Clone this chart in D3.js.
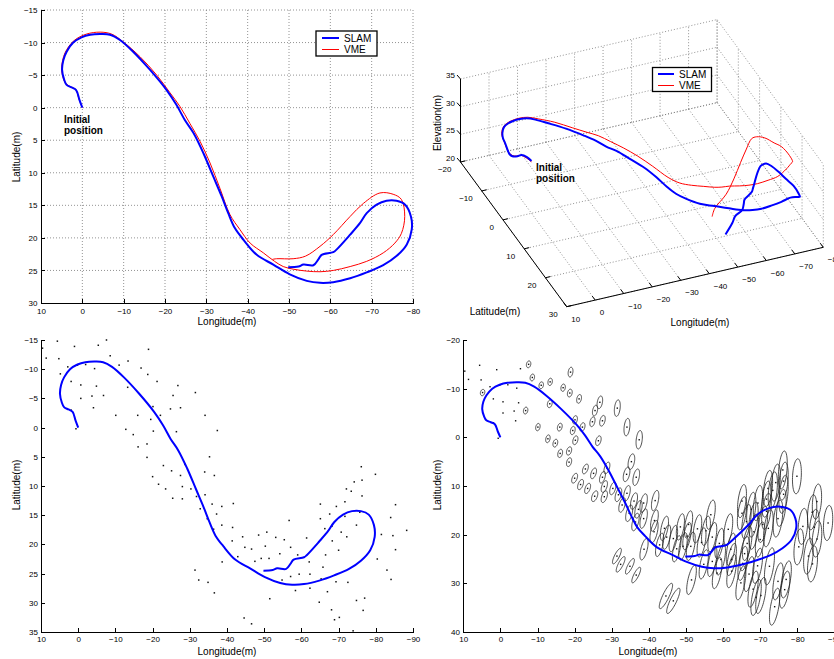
<!DOCTYPE html>
<html>
<head>
<meta charset="utf-8">
<script src="https://cdn.jsdelivr.net/npm/d3@7"></script>
<style>
  body { margin: 0; background: #fff; }
  svg text { font-family: "Liberation Sans", Arial, Helvetica, sans-serif; fill: #000; }
  .tick text { font-size: 8px; }
  .axis path, .axis line { stroke: #000; shape-rendering: crispEdges; }
  .grid line { stroke: #777; stroke-dasharray: 1,2; stroke-width: 0.8; }
</style>
</head>
<body>
<svg id="fig" width="834" height="659"></svg>
<script>
// SLAM trajectory (longitude, latitude, elevation in metres)
const slamLon = [0, 0.7, 1.5, 2.6, 3.8, 4.4, 4.9, 4.6, 3.8, 2.2, 0.2, -1.9, -4.3, -6.7, -9.1, -12.3,
  -16.4, -20.4, -22.8, -24.8, -26.9, -29.3, -31.7, -33.7, -35.3, -36.9, -39.0, -42.2, -46.2, -50.2,
  -54.3, -57.5, -60.7, -64.8, -68.8, -72.8, -76.0, -78.5, -79.7, -79.5, -78.1, -76.0, -73.6, -71.2,
  -68.8, -67.2, -64.8, -61.5, -60.7, -57.9, -57.1, -55.9, -53.5, -52.3, -49.8];
const slamLat = [0, -1.2, -2.7, -3.1, -3.5, -4.3, -5.8, -7.3, -8.6, -10.0, -10.8, -11.2, -11.3, -11.2,
  -10.4, -8.6, -5.8, -2.7, -0.4, 1.9, 3.9, 7.0, 10.6, 13.6, 16.2, 18.5, 20.3, 22.6, 24.1, 25.6, 26.6,
  26.9, 26.8, 26.2, 25.3, 24.2, 22.8, 21.0, 18.7, 16.7, 14.9, 14.3, 14.3, 14.9, 16.2, 17.7, 19.5,
  21.8, 22.2, 22.6, 23.3, 24.2, 24.1, 24.4, 24.5];
const slamElev = [29.45, 29.6, 29.3, 29.0, 28.9, 28.9, 30.2, 30.4, 30.5, 30.6, 30.6, 30.6, 30.6, 30.5,
  30.4, 30.3, 30.3, 30.2, 30.2, 30.1, 30.1, 30.0, 30.0, 29.6, 29.1, 28.8, 28.6, 28.5, 28.4, 28.3, 28.0,
  27.8, 27.6, 27.4, 27.1, 26.8, 25.8, 24.6, 23.9, 24.2, 24.7, 25.9, 27.2, 28.3, 29.0, 29.8, 29.9,
  28.7, 28.2, 27.4, 27.1, 26.6, 25.7, 24.8, 23.05];

// VME trajectory
const vmeLon = [0, 0.8, 1.6, 2.8, 4.0, 4.6, 5.0, 4.2, 2.0, -1.0, -4.3, -7.1, -9.9, -14.0, -18.0, -21.2,
  -23.6, -26.0, -28.5, -30.9, -33.3, -35.7, -38.1, -40.6, -43.8, -46.5, -48.6, -51.0, -54.3, -57.5,
  -60.7, -64.8, -68.8, -72.8, -75.6, -77.2, -78.0, -77.2, -75.2, -72.0, -68.0, -64.8, -60.7, -57.5,
  -54.0, -51.0, -47.0, -46.0];
const vmeLat = [0, -1.3, -2.8, -3.2, -3.7, -4.5, -6.1, -8.4, -10.3, -11.3, -11.6, -11.3, -10.1, -7.8,
  -5.0, -2.3, -0.2, 2.4, 5.2, 8.5, 12.4, 16.4, 18.7, 20.8, 22.3, 23.6, 24.4, 24.8, 25.1, 25.2, 25.0,
  24.4, 23.6, 22.3, 20.8, 19.3, 16.7, 14.1, 13.3, 13.1, 14.7, 16.7, 19.5, 21.3, 22.8, 23.2, 23.2, 23.3];
const vmeElev = [29.3, 29.4, 29.2, 29.0, 29.0, 29.2, 30.3, 30.5, 30.6, 30.6, 30.6, 30.6, 30.6, 30.7,
  30.7, 30.9, 31.1, 31.1, 31.1, 31.1, 31.0, 30.8, 30.7, 31.1, 31.3, 31.5, 31.7, 31.8, 31.6, 31.4,
  31.2, 31.0, 30.8, 31.0, 30.9, 30.2, 29.9, 30.2, 30.7, 31.9, 33.4, 34.5, 34.4, 33.5, 31.7, 29.5,
  27.4, 26.1];

// Landmarks: [lon, lat, sdLon, sdLat, correlation]
const landmarks = [
  [9.6,-13.6,0,0,0],[8.6,-11.9,0,0,0],[5.6,-14.8,0,0,0],[5.2,-11.8,0,0,0],[4.8,-9.2,0.6,0.65,0.2],
  [2.8,-10.4,0,0,0],[1.9,-7.9,0,0,0],[1.0,-13.9,0,0,0],[0.2,-10.7,0,0,0],[-0.7,-7.3,0,0,0],
  [-0.7,-5.0,0,0,0],[1.9,-3.0,0,0,0],[0.6,0.2,0,0,0],[-2.0,-10.8,0,0,0],[-3.7,-5.4,0,0,0],
  [-4.1,-3.4,0,0,0],[-4.9,-7.1,0,0,0],[-4.4,-10.1,0,0,0],[-5.4,-14.1,0,0,0],[-6.8,-5.5,0.6,0.7,0.2],
  [-7.6,-15.0,0.6,0.7,0.2],[-8.6,-12.3,0.6,0.7,0.2],[-10.1,-2.1,0.6,0.75,0.25],[-11.0,-10.7,0.6,0.7,0.2],
  [-12.8,0.3,0.6,0.8,0.3],[-13.3,-6.9,0.65,0.8,0.25],[-13.4,-11.4,0.6,0.75,0.2],[-14.8,1.2,0.65,0.8,0.3],
  [-16.0,-2.1,0.65,0.8,0.3],[-16.1,3.3,0.65,0.85,0.3],[-16.9,-10.2,0.6,0.75,0.2],[-18.5,5.1,0.7,0.9,0.35],
  [-18.5,2.8,0.7,0.85,0.35],[-18.7,-9.1,0.65,0.8,0.25],[-18.9,-13.4,0.65,1.0,0.25],[-19.5,-1.4,0.65,0.85,0.3],
  [-20.1,-3.6,0.65,0.85,0.3],[-20.2,0.6,0.7,0.9,0.35],[-20.0,8.4,0.8,1.0,0.5],[-21.2,-7.9,0.65,0.9,0.3],
  [-21.6,9.7,0.8,1.05,0.5],[-22.1,-2.1,0.7,0.9,0.35],[-22.9,6.5,0.8,1.0,0.5],[-23.5,10.5,0.8,1.05,0.5],
  [-24.8,-3.2,0.7,1.0,0.35],[-25.1,7.4,0.8,1.1,0.5],[-25.4,12.1,0.85,1.1,0.5],[-25.5,-5.5,0.7,1.1,0.35],
  [-26.4,0.7,0.75,1.0,0.4],[-26.8,-7.2,0.75,1.3,0.35],[-27.5,-3.4,0.75,1.1,0.4],[-27.5,8.2,0.8,1.2,0.5],
  [-28.0,10.1,0.85,1.2,0.5],[-28.0,12.2,0.85,1.2,0.5],[-28.7,6.3,0.8,1.2,0.5],[-30.3,10.5,0.85,1.3,0.5],
  [-31.5,-6.0,0.8,1.7,0.3],[-31.4,24.4,1.2,1.6,0.8],[-31.8,11.8,0.9,1.4,0.5],[-32.4,26.1,1.2,1.6,0.8],
  [-32.8,13.9,0.9,1.5,0.5],[-34.0,7.6,0.9,1.5,0.45],[-34.1,-2.1,0.8,1.8,0.3],[-34.1,11.5,0.9,1.6,0.5],
  [-34.7,15.6,0.95,1.7,0.5],[-34.9,26.5,1.2,1.6,0.8],[-35.3,5.0,0.9,1.6,0.4],[-36.0,13.1,0.95,1.7,0.5],
  [-36.4,17.4,1.0,1.8,0.55],[-36.6,8.2,0.9,1.7,0.45],[-36.6,28.3,1.2,1.6,0.8],[-37.2,14.8,1.0,1.8,0.5],
  [-37.4,0.5,0.85,1.9,0.3],[-38.6,13.5,1.0,1.9,0.5],[-38.6,16.7,1.0,2.0,0.55],[-38.7,23.0,1.1,2.2,0.6],
  [-41.5,17.1,1.05,2.2,0.55],[-41.7,13.0,1.0,2.1,0.5],[-41.4,19.4,1.1,2.3,0.55],[-42.9,22.1,1.1,2.4,0.6],
  [-44.2,18.7,1.1,2.5,0.55],[-44.8,20.5,1.1,2.5,0.55],[-44.6,32.6,1.8,2.6,0.85],[-46.6,20.8,1.15,2.7,0.55],
  [-46.6,33.6,1.8,2.6,0.85],[-47.5,22.9,1.15,2.7,0.6],[-48.5,18.4,1.1,2.7,0.5],[-49.2,22.4,1.15,2.8,0.55],
  [-50.3,20.3,1.15,2.8,0.55],[-50.7,17.9,1.1,2.8,0.5],[-51.3,22.4,1.2,2.9,0.55],[-51.5,29.3,1.3,3.0,0.65],
  [-53.1,18.8,1.15,2.9,0.5],[-54.2,21.6,1.2,3.0,0.55],[-54.8,26.1,1.25,3.0,0.6],[-55.4,19.2,1.2,3.0,0.5],
  [-56.7,15.9,1.2,3.0,0.5],[-57.1,20.5,1.2,3.0,0.55],[-57.1,25.5,1.25,3.1,0.6],[-58.4,27.9,1.3,3.2,0.6],
  [-59.0,21.8,1.2,3.1,0.55],[-59.4,25.1,1.25,3.2,0.6],[-61.4,18.9,1.2,3.2,0.5],[-62.1,23.0,1.25,3.3,0.55],
  [-62.3,25.1,1.3,3.3,0.6],[-62.3,27.5,1.3,3.4,0.6],[-64.8,29.9,1.35,3.5,0.6],[-65.1,13.1,1.2,3.4,0.45],
  [-65.1,15.6,1.25,3.4,0.5],[-65.3,25.9,1.3,3.5,0.55],[-65.8,23.9,1.3,3.5,0.55],[-66.3,17.3,1.25,3.5,0.5],
  [-66.5,21.8,1.3,3.5,0.55],[-67.0,28.1,1.35,3.6,0.6],[-67.6,14.8,1.25,3.5,0.45],[-68.1,31.2,1.4,3.7,0.6],
  [-68.2,16.9,1.25,3.6,0.5],[-68.3,19.4,1.3,3.6,0.5],[-68.9,32.9,1.4,3.7,0.6],[-69.3,26.4,1.35,3.6,0.55],
  [-69.4,13.5,1.25,3.6,0.45],[-70.0,21.0,1.3,3.6,0.5],[-70.2,32.5,1.4,3.7,0.6],[-70.7,17.9,1.3,3.7,0.5],
  [-71.7,12.7,1.25,3.7,0.4],[-71.7,15.2,1.3,3.7,0.45],[-72.1,10.5,1.25,3.7,0.4],[-72.2,18.7,1.3,3.8,0.5],
  [-72.5,26.5,1.35,3.8,0.55],[-73.4,10.9,1.25,3.8,0.4],[-73.9,34.8,1.4,3.8,0.6],[-74.2,9.3,1.25,3.8,0.4],
  [-74.8,16.7,1.3,3.8,0.45],[-74.8,29.6,1.4,3.8,0.55],[-75.7,14.5,1.3,3.8,0.45],[-76.1,6.7,1.2,3.9,0.35],
  [-76.3,9.0,1.25,3.9,0.35],[-76.3,11.7,1.25,3.9,0.4],[-76.6,31.3,1.4,3.8,0.55],[-77.0,29.2,1.4,3.8,0.55],
  [-79.9,8.0,1.2,3.6,0.2],[-80.4,22.5,1.3,3.7,0.35],[-81.5,18.3,1.3,3.7,0.3],[-83.0,24.4,1.3,3.7,0.35],
  [-84.0,15.4,1.25,3.6,0.3],[-84.1,26.0,1.35,3.7,0.35],[-84.6,18.5,1.3,3.7,0.3],[-85.3,13.2,1.25,3.6,0.3],
  [-85.3,20.9,1.3,3.7,0.3],[-88.3,17.6,1.25,3.6,0.25]
];

// tick values
const lonTicks1 = [10, 0, -10, -20, -30, -40, -50, -60, -70, -80];
const latTicks1 = [-15, -10, -5, 0, 5, 10, 15, 20, 25, 30];
const lonTicks3 = [10, 0, -10, -20, -30, -40, -50, -60, -70, -80, -90];
const latTicks3 = [-15, -10, -5, 0, 5, 10, 15, 20, 25, 30, 35];
const latTicks4 = [-20, -10, 0, 10, 20, 30, 40];
const lonTicks3d = [10, 0, -10, -20, -30, -40, -50, -60, -70, -80];
const latTicks3d = [-20, -10, 0, 10, 20, 30];
const elevTicks3d = [20, 25, 30, 35];

const seriesNames = ["SLAM", "VME"];
const BLUE = "#0000ff", RED = "#ff0000";

const svg = d3.select("#fig");
const fmt = d3.format("d");

const slamPts = slamLon.map((d, i) => [d, slamLat[i]]);
const vmePts = vmeLon.map((d, i) => [d, vmeLat[i]]);

function drawAxes(g, x, y, xt, yt, padX, padY) {
  g.append("g").attr("class", "axis")
    .attr("transform", `translate(0,${y.range()[1]})`)
    .call(d3.axisBottom(x).tickValues(xt).tickSizeInner(-4).tickSizeOuter(0).tickPadding(padX));
  g.append("g").attr("class", "axis")
    .attr("transform", `translate(${x.range()[0]},0)`)
    .call(d3.axisLeft(y).tickValues(yt).tickSizeInner(-4).tickSizeOuter(0).tickPadding(padY));
  g.selectAll(".axis .domain").attr("stroke-width", 1);
}

function axisLabels(g, cx, by, lx, cy) {
  g.append("text").attr("x", cx).attr("y", by).attr("text-anchor", "middle")
    .style("font-size", "10px").text("Longitude(m)");
  g.append("text").attr("transform", `translate(${lx},${cy}) rotate(-90)`)
    .attr("text-anchor", "middle").attr("dy", "0.35em")
    .style("font-size", "10px").text("Latitude(m)");
}

function legend(g, x0, y0, w, h, lineX0, lineX1, textX, rowY) {
  g.append("rect").attr("x", x0).attr("y", y0).attr("width", w).attr("height", h)
    .attr("fill", "#fff").attr("stroke", "#000").attr("stroke-width", 1.3);
  const colors = [BLUE, RED], widths = [2, 1];
  seriesNames.forEach((n, i) => {
    g.append("line").attr("x1", lineX0).attr("x2", lineX1)
      .attr("y1", rowY[i]).attr("y2", rowY[i])
      .attr("stroke", colors[i]).attr("stroke-width", widths[i]);
    g.append("text").attr("x", textX).attr("y", rowY[i]).attr("dy", "0.35em")
      .style("font-size", "10px").text(n);
  });
}

function initialLabel(g, x, y) {
  const t = g.append("text").attr("x", x).attr("y", y)
    .style("font-size", "10px").style("font-weight", "bold");
  t.append("tspan").attr("x", x).text("Initial");
  t.append("tspan").attr("x", x).attr("dy", 11.5).text("position");
}

// ---------------- Panel 1: 2D trajectories ----------------
{
  const g = svg.append("g");
  const x = d3.scaleLinear().domain([10, -80]).range([41, 413]);
  const y = d3.scaleLinear().domain([-15, 30]).range([10, 303]);

  const grid = g.append("g").attr("class", "grid");
  grid.selectAll(".gv").data(lonTicks1.filter(d => d !== 10)).enter().append("line")
    .attr("x1", d => x(d)).attr("x2", d => x(d)).attr("y1", y(-15)).attr("y2", y(30));
  grid.selectAll(".gh").data(latTicks1.filter(d => d !== 30)).enter().append("line")
    .attr("y1", d => y(d)).attr("y2", d => y(d)).attr("x1", x(10)).attr("x2", x(-80));

  drawAxes(g, x, y, lonTicks1, latTicks1, 5, 3.5);
  axisLabels(g, 227, 325, 16, 157);

  const line = d3.line().x(d => x(d[0])).y(d => y(d[1])).curve(d3.curveCatmullRom.alpha(0.5));
  g.append("path").datum(vmePts).attr("d", line).attr("fill", "none")
    .attr("stroke", RED).attr("stroke-width", 1);
  g.append("path").datum(slamPts).attr("d", line).attr("fill", "none")
    .attr("stroke", BLUE).attr("stroke-width", 2);

  legend(g, 316, 31, 61, 25, 322, 339, 344, [38, 49.5]);
  initialLabel(g, 64, 122.5);
}

// ---------------- Panel 2: 3D view ----------------
{
  const g = svg.append("g");
  const ox = 460.5, oy = 162;
  const pLonX = d3.scaleLinear().domain([10, -80]).range([0, 256.6]);
  const pLonY = d3.scaleLinear().domain([10, -80]).range([0, -59.4]);
  const pLatX = d3.scaleLinear().domain([-20, 30]).range([0, 106.2]);
  const pLatY = d3.scaleLinear().domain([-20, 30]).range([0, 144.7]);
  const pElY = d3.scaleLinear().domain([20, 35]).range([0, -83]);
  const proj = (lon, lat, el) => [ox + pLonX(lon) + pLatX(lat), oy + pLonY(lon) + pLatY(lat) + pElY(el)];

  const segs = [];
  lonTicks3d.forEach(L => {
    segs.push([proj(L, -20, 20), proj(L, 30, 20)]);
    segs.push([proj(L, -20, 20), proj(L, -20, 35)]);
  });
  latTicks3d.forEach(A => {
    segs.push([proj(10, A, 20), proj(-80, A, 20)]);
    segs.push([proj(-80, A, 20), proj(-80, A, 35)]);
  });
  elevTicks3d.forEach(E => {
    segs.push([proj(10, -20, E), proj(-80, -20, E)]);
    segs.push([proj(-80, -20, E), proj(-80, 30, E)]);
  });
  g.append("g").attr("class", "grid").selectAll("line").data(segs).enter().append("line")
    .attr("x1", d => d[0][0]).attr("y1", d => d[0][1])
    .attr("x2", d => d[1][0]).attr("y2", d => d[1][1]);

  const ax = g.append("g").attr("stroke", "#000").attr("stroke-width", 1);
  const seg = (a, b) => ax.append("line").attr("x1", a[0]).attr("y1", a[1]).attr("x2", b[0]).attr("y2", b[1]);
  seg(proj(10, -20, 20), proj(10, 30, 20));
  seg(proj(10, 30, 20), proj(-80, 30, 20));
  seg(proj(10, -20, 20), proj(10, -20, 35));

  lonTicks3d.forEach(L => {
    const p = proj(L, 30, 20);
    seg(p, [p[0] - 3, p[1] - 4]);
    g.append("text").attr("x", p[0] + 4.5).attr("y", p[1] + 15)
      .style("font-size", "8px").text(fmt(L));
  });
  latTicks3d.forEach(A => {
    const p = proj(10, A, 20);
    seg(p, [p[0] + 5, p[1] - 1.2]);
    g.append("text").attr("x", p[0] - 9).attr("y", p[1] + 10).attr("text-anchor", "end")
      .style("font-size", "8px").text(fmt(A));
  });
  elevTicks3d.forEach(E => {
    const p = proj(10, -20, E);
    seg(p, [p[0] - 3.5, p[1] - 4]);
    g.append("text").attr("x", p[0] - 5.5).attr("y", p[1] - 1).attr("text-anchor", "end")
      .style("font-size", "8px").text(fmt(E));
  });

  g.append("text").attr("x", 495).attr("y", 314.5).attr("text-anchor", "middle")
    .style("font-size", "10px").text("Latitude(m)");
  g.append("text").attr("x", 700).attr("y", 325.5).attr("text-anchor", "middle")
    .style("font-size", "10px").text("Longitude(m)");
  g.append("text").attr("transform", "translate(437.5,123) rotate(-90)")
    .attr("text-anchor", "middle").attr("dy", "0.35em")
    .style("font-size", "10px").text("Elevation(m)");

  const line3 = d3.line().curve(d3.curveCatmullRom.alpha(0.5));
  const vme3 = vmeLon.map((d, i) => proj(d, vmeLat[i], vmeElev[i]));
  const slam3 = slamLon.map((d, i) => proj(d, slamLat[i], slamElev[i]));
  g.append("path").attr("d", line3(vme3)).attr("fill", "none").attr("stroke", RED).attr("stroke-width", 1);
  g.append("path").attr("d", line3(slam3)).attr("fill", "none").attr("stroke", BLUE).attr("stroke-width", 2);

  legend(g, 652.5, 67.5, 59, 24, 658, 674, 679, [74, 85.5]);
  initialLabel(g, 536, 170.5);
}

// ---------------- Panel 3: landmarks ----------------
{
  const g = svg.append("g");
  const x = d3.scaleLinear().domain([10, -90]).range([41, 413]);
  const y = d3.scaleLinear().domain([-15, 35]).range([340, 632]);
  drawAxes(g, x, y, lonTicks3, latTicks3, 4.5, 3);
  axisLabels(g, 227, 654.5, 16, 485);

  g.selectAll(".lm").data(landmarks).enter().append("rect")
    .attr("x", d => x(d[0]) - 0.75).attr("y", d => y(d[1]) - 0.75)
    .attr("width", 1.5).attr("height", 1.5).attr("fill", "#111");

  const line = d3.line().x(d => x(d[0])).y(d => y(d[1])).curve(d3.curveCatmullRom.alpha(0.5));
  g.append("path").datum(slamPts).attr("d", line).attr("fill", "none")
    .attr("stroke", BLUE).attr("stroke-width", 2);
}

// ---------------- Panel 4: landmarks with uncertainty ----------------
{
  const g = svg.append("g");
  const x = d3.scaleLinear().domain([10, -90]).range([463.3, 834.4]);
  const y = d3.scaleLinear().domain([-20, 40]).range([340, 632]);
  drawAxes(g, x, y, lonTicks3, latTicks4, 4.5, 3.3);
  axisLabels(g, 648, 654.5, 437, 485);

  const angles = d3.range(0, 2 * Math.PI, Math.PI / 24);
  const ell = d3.line().curve(d3.curveLinearClosed);
  g.selectAll(".ell").data(landmarks.filter(d => d[3] > 0)).enter().append("path")
    .attr("d", d => {
      const k = Math.sqrt(1 - d[4] * d[4]);
      return ell(angles.map(t => [
        x(d[0] + d[2] * Math.cos(t)),
        y(d[1] + d[3] * (d[4] * Math.cos(t) + k * Math.sin(t)))
      ]));
    })
    .attr("fill", "none").attr("stroke", "#222").attr("stroke-width", 0.8);

  g.selectAll(".lm").data(landmarks).enter().append("rect")
    .attr("x", d => x(d[0]) - 0.7).attr("y", d => y(d[1]) - 0.7)
    .attr("width", 1.4).attr("height", 1.4).attr("fill", "#111");

  const line = d3.line().x(d => x(d[0])).y(d => y(d[1])).curve(d3.curveCatmullRom.alpha(0.5));
  g.append("path").datum(slamPts).attr("d", line).attr("fill", "none")
    .attr("stroke", BLUE).attr("stroke-width", 2);
}
</script>
</body>
</html>
